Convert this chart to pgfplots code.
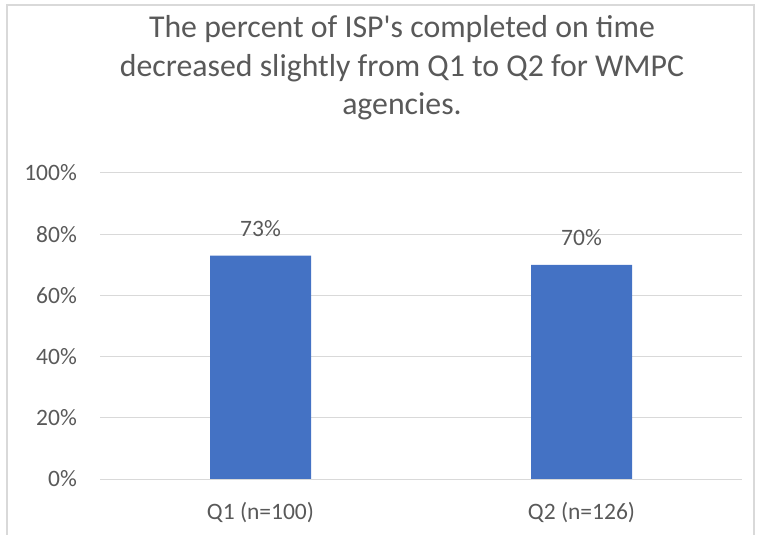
\documentclass[border=0pt]{standalone}
\usepackage{pgfplots}
\pgfplotsset{compat=1.18}
\usepackage{fontspec}
\setmainfont{Carlito}
\definecolor{txt}{HTML}{595959}
\definecolor{grd}{HTML}{D9D9D9}
\definecolor{barc}{HTML}{4472C4}
\begin{document}
\begin{tikzpicture}
\useasboundingbox (0bp,0bp) rectangle (760bp,535bp);
\draw[grd, line width=1.5bp] (7bp,-5bp) rectangle (754bp,530bp);
\begin{scope}[every node/.style={txt, anchor=base, inner sep=0pt, font=\fontsize{31.8bp}{38.5bp}\selectfont}]
\node at (402bp,497bp) {The percent of ISP\textquotesingle s completed on time};
\node at (402bp,458bp) {decreased slightly from Q1 to Q2 for WMPC};
\node at (402bp,420bp) {agencies.};
\end{scope}
\begin{axis}[
  at={(100bp,56bp)}, anchor=south west,
  width=642bp, height=306bp, scale only axis,
  xmin=-0.5, xmax=1.5, ymin=0, ymax=100,
  ybar, bar width=101bp,
  xtick={0,1}, xticklabels={Q1 (n=100), Q2 (n=126)},
  ytick={0,20,40,60,80,100},
  yticklabels={0\%,20\%,40\%,60\%,80\%,100\%},
  ymajorgrids, grid style={grd, line width=1bp},
  axis line style={draw=none},
  major tick length=0pt,
  tick label style={txt, font=\fontsize{23.5bp}{28bp}\selectfont, inner sep=0pt},
  yticklabel style={anchor=east, xshift=-23bp},
  xticklabel style={anchor=north, yshift=-23bp},
  nodes near coords={\pgfmathprintnumber[assume math mode=true]{\pgfplotspointmeta}\%},
  nodes near coords style={txt, font=\fontsize{23.5bp}{28bp}\selectfont, anchor=base, inner sep=0pt, yshift=19bp},
]
\addplot[fill=barc, draw=none] coordinates {(0,73) (1,70)};
\end{axis}
\end{tikzpicture}
\end{document}
